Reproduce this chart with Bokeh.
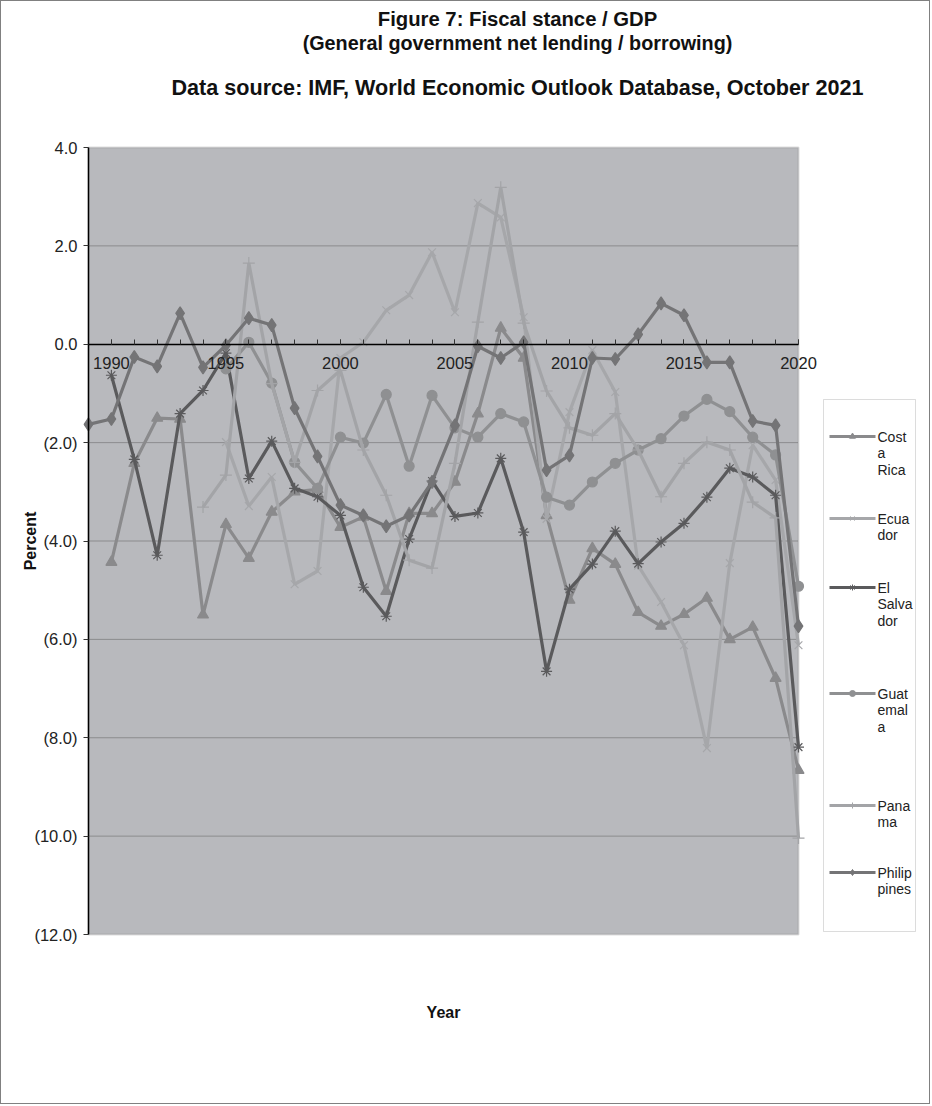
from bokeh.plotting import figure
from bokeh.models import (Range1d, FixedTicker, NumeralTickFormatter,
                          BoxAnnotation, LinearAxis, ColumnDataSource)
from bokeh.core.properties import value
from bokeh.embed import file_html
from bokeh.resources import INLINE

# General government net lending / borrowing, percent of GDP
years = list(range(1989, 2021))

costa_rica = [None, -4.43, -2.42, -1.50, -1.52, -5.50, -3.66, -4.35, -3.41, -3.00,
              -2.95, -3.72, -3.51, -5.02, -3.44, -3.44, -2.80, -1.41, 0.33, -0.28,
              -3.48, -5.20, -4.15, -4.47, -5.45, -5.73, -5.49, -5.16, -6.00, -5.75,
              -6.79, -8.66]
ecuador = [None, None, None, None, None, None, -1.99, -3.29, -2.70, -4.88,
           -4.61, -0.28, 0.04, 0.69, 1.00, 1.87, 0.65, 2.87, 2.58, 0.55,
           -3.55, -1.38, -0.12, -0.97, -4.50, -5.24, -6.12, -8.21, -4.45, -2.05,
           -2.76, -6.12]
el_salvador = [None, -0.63, -2.34, -4.29, -1.41, -0.94, -0.18, -2.73, -1.97, -2.93,
               -3.10, -3.48, -4.94, -5.53, -3.96, -2.78, -3.50, -3.43, -2.32, -3.82,
               -6.65, -4.98, -4.47, -3.80, -4.46, -4.02, -3.64, -3.11, -2.52, -2.70,
               -3.07, -8.19]
guatemala = [None, None, None, None, None, None, -0.50, 0.04, -0.79, -2.40,
             -2.93, -1.89, -2.01, -1.02, -2.48, -1.04, -1.70, -1.89, -1.41, -1.58,
             -3.11, -3.27, -2.80, -2.42, -2.15, -1.92, -1.46, -1.12, -1.37, -1.89,
             -2.25, -4.92]
panama = [None, None, None, None, None, -3.31, -2.66, 1.65, -0.80, -2.40,
          -0.94, -0.53, -2.15, -3.07, -4.39, -4.55, -2.42, 0.45, 3.19, 0.43,
          -0.95, -1.70, -1.85, -1.41, -2.15, -3.10, -2.42, -1.99, -2.15, -3.21,
          -3.53, -10.04]
philippines = [-1.63, -1.52, -0.26, -0.45, 0.63, -0.47, -0.02, 0.53, 0.39, -1.30,
               -2.28, -3.27, -3.48, -3.70, -3.48, -2.80, -1.65, -0.04, -0.28, 0.04,
               -2.56, -2.26, -0.28, -0.30, 0.20, 0.83, 0.59, -0.37, -0.37, -1.56,
               -1.65, -5.73]

# legend labels as they wrap in the narrow key box
legend_labels = [["Cost", "a", "Rica"], ["Ecua", "dor"], ["El", "Salva", "dor"],
                 ["Guat", "emal", "a"], ["Pana", "ma"], ["Philip", "pines"]]

title_lines = ["Figure 7: Fiscal stance / GDP",
               "(General government net lending / borrowing)",
               "Data source: IMF, World Economic Outlook Database, October 2021"]

y_ticks = [-12, -10, -8, -6, -4, -2, 0, 2, 4]
grid_levels = [-10, -8, -6, -4, -2, 2]
x_label_years = [1990, 1995, 2000, 2005, 2010, 2015, 2020]

FONT = "Liberation Sans"
BG = "#b8b9bd"

# page geometry: the canvas sits inside a 1px border, so page pixel 1 is canvas 0
W, H = 930, 1104
PA_LEFT, PA_RIGHT, PA_TOP, PA_BOTTOM = 88, 798, 147, 934   # plot area, page px
X0, X1, Y0, Y1 = 1989, 2020, -12, 4
KX = (PA_RIGHT - PA_LEFT) / (X1 - X0)     # px per year
KY = (PA_BOTTOM - PA_TOP) / (Y1 - Y0)     # px per percentage point

x_start = X0 - (PA_LEFT - 1) / KX
y_top = Y1 + (PA_TOP - 1) / KY


def to_data(px, py):
    """page pixel -> data coordinates"""
    return x_start + (px - 1) / KX, y_top - (py - 1) / KY


p = figure(width=W, height=H, output_backend="svg", toolbar_location=None,
           x_range=Range1d(x_start, x_start + W / KX),
           y_range=Range1d(y_top - H / KY, y_top),
           min_border=0, title_location=None)
p.styles = {"border": "1px solid #808080"}
p.background_fill_color = "white"
p.border_fill_color = "white"
p.outline_line_color = None
p.xgrid.visible = False
p.ygrid.visible = False

# grey plot area with its frame
p.add_layout(BoxAnnotation(left=X0, right=X1, bottom=Y0, top=Y1,
                           fill_color=BG, fill_alpha=1.0,
                           line_color="#8e8e8e", line_width=2,
                           level="underlay"))

# dotted horizontal gridlines across the plot area
p.segment(x0=[X0] * len(grid_levels), x1=[X1] * len(grid_levels),
          y0=grid_levels, y1=grid_levels, line_color="#5f5f5f",
          line_width=1, line_dash="1 1")

# x axis sits on the zero line
xa = p.xaxis[0]
xa.fixed_location = 0
xa.bounds = (X0, X1)
xa.ticker = FixedTicker(ticks=x_label_years, minor_ticks=years)
xa.axis_line_color = "black"
xa.axis_line_width = 1.5
xa.major_tick_in = 5
xa.major_tick_out = 0
xa.minor_tick_in = 5
xa.minor_tick_out = 0
xa.major_tick_line_color = "#333333"
xa.minor_tick_line_color = "#333333"
xa.major_label_text_font = FONT
xa.major_label_text_font_size = "16.5px"
xa.major_label_text_color = "#222222"
xa.major_label_standoff = 13

ya = p.yaxis[0]
ya.fixed_location = X0
ya.bounds = (Y0, Y1)
ya.ticker = FixedTicker(ticks=y_ticks, minor_ticks=[])
ya.formatter = NumeralTickFormatter(format="(0.0)")
ya.axis_line_color = "black"
ya.axis_line_width = 1.5
ya.major_tick_in = 0
ya.major_tick_out = 5
ya.major_tick_line_color = "#333333"
ya.minor_tick_line_color = None
ya.major_label_text_font = FONT
ya.major_label_text_font_size = "16.5px"
ya.major_label_text_color = "#222222"
ya.major_label_standoff = 6
ya.axis_label = "Percent"
ya.axis_label_text_font = FONT
ya.axis_label_text_font_style = "bold"
ya.axis_label_text_font_size = "16px"
ya.axis_label_text_color = "#111111"
ya.axis_label_standoff = -8

# axis carrying only the "Year" caption under the plot area
_, year_axis_y = to_data(0, 1003)
cap = LinearAxis(fixed_location=year_axis_y, bounds=(X0, X1),
                 ticker=FixedTicker(ticks=[]), axis_line_color=None,
                 major_tick_line_color=None, minor_tick_line_color=None,
                 axis_label="Year", axis_label_standoff=0,
                 axis_label_text_font=FONT, axis_label_text_font_style="bold",
                 axis_label_text_font_size="16px", axis_label_text_color="#111111")
p.add_layout(cap, "below")

series = [
    (costa_rica, "#8a8a8c", "triangle", 11),
    (ecuador, "#a6a7aa", "x", 11),
    (el_salvador, "#5a5a5c", "asterisk", 11),
    (guatemala, "#8f9092", "circle", 10),
    (panama, "#a3a4a7", "cross", 12),
    (philippines, "#747476", "diamond", 13),
]

for vals, color, marker, size in series:
    ys = [float("nan") if v is None else v for v in vals]
    p.line(years, ys, line_color=color, line_width=3.2)
    p.scatter(years, ys, marker=marker, size=size, fill_color=color,
              line_color=color, line_width=1.2)

# key box to the right of the plot area
kx0, ky0 = to_data(823, 399)
kx1, ky1 = to_data(915, 931)
p.add_layout(BoxAnnotation(left=kx0, right=kx1, top=ky0, bottom=ky1,
                           fill_color="white", fill_alpha=1.0,
                           line_color="#8c8c8c", line_width=1,
                           level="underlay"))
first_line_px = [436, 518, 587, 693, 805, 872]
LINE_STEP = 16.5
for (vals, color, marker, size), lines, cy in zip(series, legend_labels, first_line_px):
    sx0, sy = to_data(829, cy)
    sx1, _ = to_data(875, cy)
    sxm, _ = to_data(852, cy)
    p.segment(x0=[sx0], y0=[sy], x1=[sx1], y1=[sy], line_color=color, line_width=3)
    p.scatter([sxm], [sy], marker=marker, size=6, fill_color=color,
              line_color=color, line_width=1)
    tx, _ = to_data(877, cy)
    tys = [to_data(877, cy + j * LINE_STEP)[1] for j in range(len(lines))]
    p.text(x=[tx] * len(lines), y=tys, text=lines, text_font=value(FONT),
           text_font_size=value("14px"), text_color="#222222",
           text_align="left", text_baseline="middle")

# chart title block
title_x, _ = to_data(517, 0)
title_src = ColumnDataSource(dict(
    x=[title_x] * 3,
    y=[to_data(0, cy)[1] for cy in (18, 42, 87)],
    text=title_lines,
    size=["20.3px", "19.8px", "21.6px"],
))
p.text(x="x", y="y", text="text", source=title_src, text_font=value(FONT),
       text_font_style="bold", text_font_size="size",
       text_color="#111111", text_align="center", text_baseline="middle")

open("out.html", "w").write(file_html(p, INLINE))
